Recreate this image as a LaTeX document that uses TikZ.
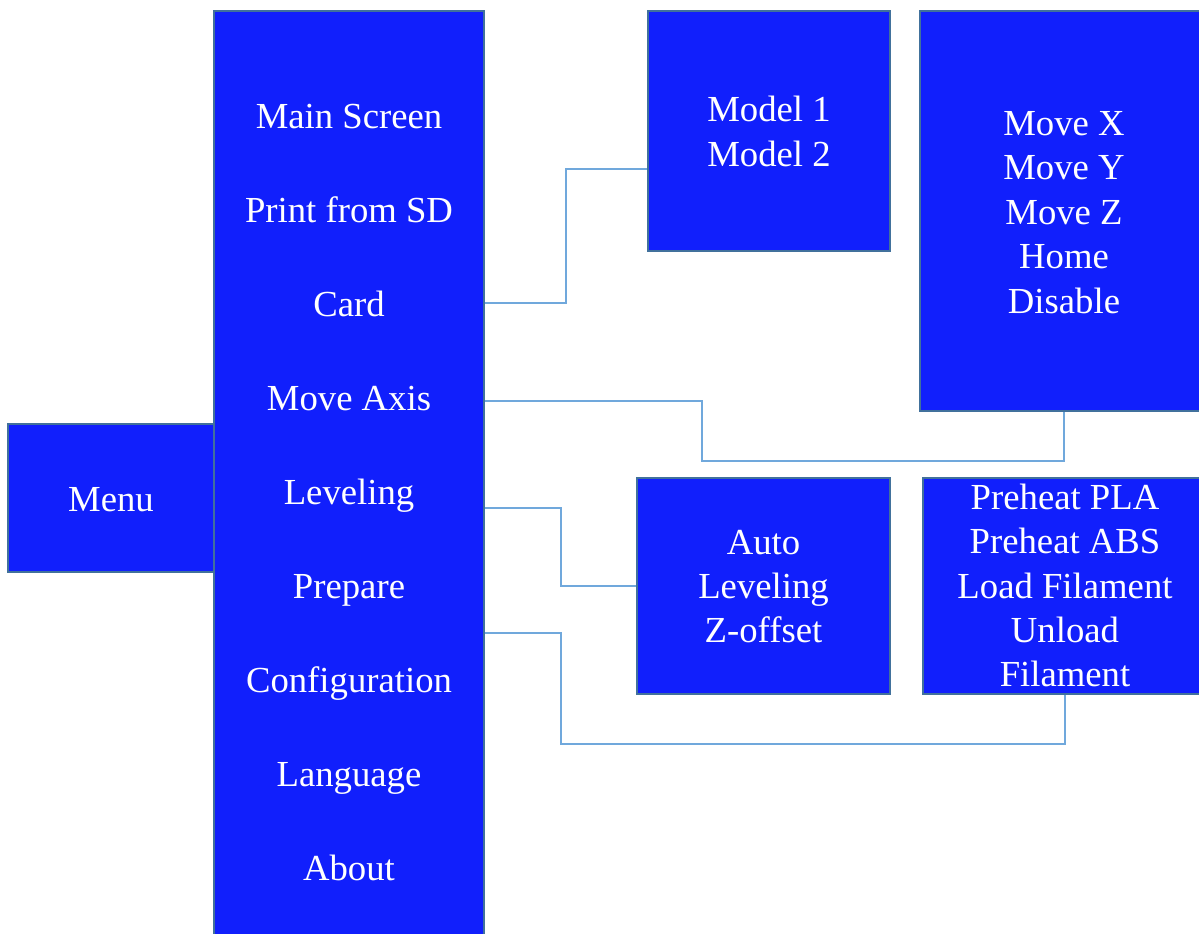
\documentclass[tikz,border=0pt]{standalone}
\usepackage{fontspec}
\setmainfont{Liberation Serif}
\usetikzlibrary{calc}
\definecolor{menublue}{RGB}{17,31,252}
\definecolor{edgeblue}{RGB}{65,113,156}
\definecolor{linkblue}{RGB}{112,168,220}
\tikzset{box/.style={draw=edgeblue,fill=menublue,line width=2pt,inner sep=0pt},
	txt/.style={text=white,inner sep=0pt,anchor=base},
	link/.style={draw=linkblue,line width=1.5pt}}

\begin{document}
\begin{tikzpicture}[x=1pt,y=-1pt,font=\fontsize{36.7}{44.3}\selectfont, line join=miter]
			\useasboundingbox (0,0) rectangle (1199,934);
			\node[box,minimum width=206pt,minimum height=148pt] (menu) at (111,498) {};
			\node[box,minimum width=270pt,minimum height=940pt] (main) at (349,481) {};
			\node[box,minimum width=242pt,minimum height=240pt] (model) at (769,131) {};
			\node[box,minimum width=288pt,minimum height=400pt] (move) at (1064,211) {};
			\node[box,minimum width=253pt,minimum height=216pt] (auto) at (763.5,586) {};
			\node[box,minimum width=284pt,minimum height=216pt] (heat) at (1065,586) {};
			\node[txt] (menutxt) at (111,511) {Menu};
			\foreach \t [count=\i] in {Main Screen,Print from SD,Card,Move Axis,Leveling,Prepare,Configuration,Language,About}
			\node[txt] (item\i) at (349,{128.3+94*(\i-1)}) {\t};
			\foreach \t [count=\i] in {Model 1,Model 2}
			\node[txt] (mod\i) at (769,{121.7+44.3*(\i-1)}) {\t};
			\foreach \t [count=\i] in {Move X,Move Y,Move Z,Home,Disable}
			\node[txt] (mv\i) at (1064,{135+44.6*(\i-1)}) {\t};
			\foreach \t [count=\i] in {Auto,Leveling,Z-offset}
			\node[txt] (lv\i) at (763.5,{554.3+44.2*(\i-1)}) {\t};
			\foreach \t [count=\i] in {Preheat PLA,Preheat ABS,Load Filament,Unload,Filament}
			\node[txt] (ht\i) at (1065,{509.7+44.2*(\i-1)}) {\t};
			\foreach \y/\t in {303/cardout,401/axisout,508/levelout,633/prepout}
			\coordinate (\t) at (main.east |- 0,\y);
			\draw[link] (cardout) -- ++(81,0) |- ([yshift=-38pt]model.west);
			\draw[link] (axisout) -- ++(217,0) -- ++(0,60) -| (move.south);
			\draw[link] (levelout) -- ++(76,0) |- (auto.west);
			\draw[link] (prepout) -- ++(76,0) -- ++(0,111) -| (heat.south);
		\end{tikzpicture}
\end{document}
